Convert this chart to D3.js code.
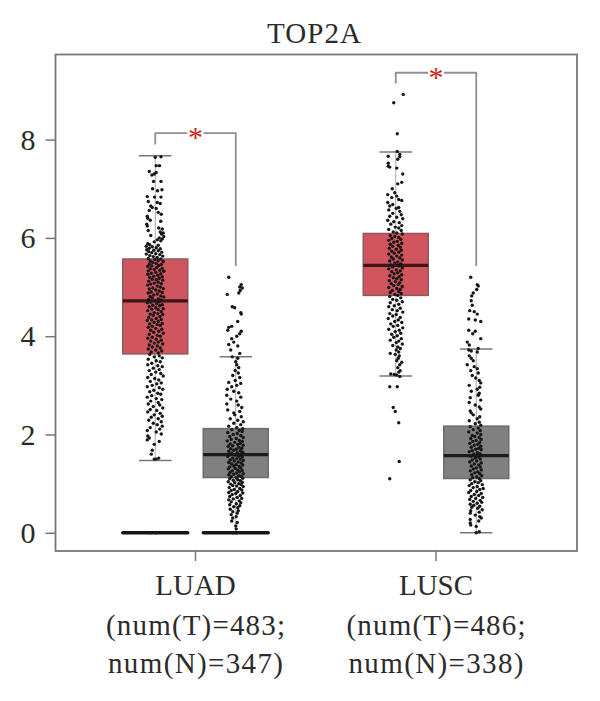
<!DOCTYPE html>
<html>
<head>
<meta charset="utf-8">
<script src="https://cdn.jsdelivr.net/npm/d3@7"></script>
<style>
  html, body { margin: 0; padding: 0; background: #fff; }
  text { font-family: "Liberation Serif", serif; fill: #2b2b2b; }
</style>
</head>
<body>
<svg id="chart" width="600" height="701"></svg>
<script>
const title = "TOP2A";
const categories = ["LUAD", "LUSC"];
const groups = ["T", "N"];
const sampleLabels = [
  ["(num(T)=483;", "num(N)=347)"],
  ["(num(T)=486;", "num(N)=338)"]
];
const yTicks = [0, 2, 4, 6, 8];

// q1, median, q3, whisker low, whisker high
const luadTumorBox = [3.64, 4.72, 5.57, 1.47, 7.67];
const luadNormalBox = [1.125, 1.59, 2.12, 0, 3.58];
const luscTumorBox = [4.83, 5.44, 6.09, 3.19, 7.75];
const luscNormalBox = [1.105, 1.57, 2.17, 0, 3.74];

// bracket top, left foot, right foot
const luadBracket = [8.13, 7.9, 5.43];
const luscBracket = [9.36, 9.14, 5.43];

// samples stuck at zero in LUAD show up as a flat box
const zeroGroups = [["LUAD", "T"], ["LUAD", "N"]];

// [value, jitter], jitter is -1..1 around the box centre
const luadTumorPts = [
[7.65,.57],[7.64,0],[7.47,.1],[7.47,.43],[7.35,-.6],[7.28,-.33],[7.33,.1],[7.3,-.1],[7.15,-.17],[7.15,.57],[7,-.27],[6.96,.23],[6.98,.67],
[6.84,-.8],[6.83,-.07],[6.83,.57],[6.74,-.7],[6.72,.2],[6.7,.5],[6.65,-.45],[6.62,-.3],[6.6,.1],[6.56,-.6],[6.52,.3],[6.48,.6],[6.44,-.8],[6.4,-.75],[6.36,-.5],[6.34,.55],
[6.28,-.85],[6.24,-.8],[6.2,.35],[6.18,.7],[6.15,-.7],[6.12,.5],[6.1,.8],[6.08,.62],[6.05,-.45],[6.03,.85],[6,.4],[5.98,.7],[5.96,.2],[5.94,.55],[5.92,-.1],
[5.88,-.75],[5.86,-.55],[5.85,.3],[5.83,-.9],[5.82,-.3],[5.8,.1],[5.79,-.6],[5.78,.5],[5.76,-.85],[5.75,-.15],[5.74,.3],[5.72,-.65],[5.71,.65],[5.7,-.35],[5.68,.05],[5.67,-.9],[5.66,.45],[5.64,-.55],[5.63,.75],[5.62,-.2],[5.6,.2],[5.58,-.7],[5.57,.55],[5.56,-.05],[5.54,.3],[5.53,-.5],[5.52,.8],[5.5,-.25],
[5.48,.1],[5.47,-.6],[5.46,.6],[5.44,.35],[5.43,-.35],[5.42,-.75],[5.4,.15],[5.38,.7],[5.37,-.5],[5.36,-.1],[5.34,.45],[5.33,-.7],[5.32,.85],[5.3,.05],[5.28,-.4],[5.27,.55],[5.26,-.75],[5.24,.25],[5.22,-.15],[5.21,.7],[5.2,-.55],[5.18,.4],[5.16,-.3],[5.15,.1],[5.14,.75],[5.12,-.65],[5.1,.3],[5.08,-.1],[5.07,.6],[5.06,-.45],[5.04,-.75],[5.02,.2],[5,.5],[4.98,-.25],[4.97,.8],[4.96,-.6],[4.94,.05],[4.92,.4],[4.9,-.4],[4.89,.7],[4.88,-.7],[4.86,.2],[4.84,-.15],[4.82,.55],[4.81,-.5],[4.8,.85],[4.78,-.3],[4.76,.3],[4.75,-.65],[4.74,.6],[4.72,-.05],[4.7,.4],[4.69,-.45],[4.68,-.8],[4.66,.15],[4.64,.7],[4.63,-.25],[4.62,.45],[4.6,-.6],[4.58,.05],[4.56,.8],[4.55,-.35],[4.54,.3],[4.52,-.75],[4.5,.6],[4.48,-.1],[4.46,.25],[4.45,-.5],[4.44,.75],[4.42,-.2],[4.4,.45],[4.38,-.65],[4.36,.1],[4.34,.6],[4.33,-.35],[4.32,-.8],[4.3,.3],[4.28,-.1],[4.26,.7],[4.25,-.55],[4.24,.2],[4.22,.5],[4.2,-.3],[4.18,-.7],[4.16,.05],[4.14,.65],[4.12,-.45],[4.1,.35],[4.08,-.15],[4.06,.8],[4.04,-.6],[4.02,.2],[4,.5],[3.98,-.3],[3.96,-.75],[3.94,.1],[3.92,.6],[3.9,-.45],[3.88,.3],[3.86,-.1],[3.84,.75],[3.82,-.6],[3.8,.2],[3.78,-.3],[3.76,.5],[3.74,-.7],[3.72,.05],[3.7,.65],[3.68,-.4],[3.66,.3],
[3.63,-.55],[3.6,.4],[3.58,-.1],[3.56,.7],[3.53,-.7],[3.5,.1],[3.48,.5],[3.45,-.35],[3.42,-.75],[3.4,.25],[3.38,.7],[3.35,-.2],[3.32,.4],[3.3,-.6],[3.27,.05],[3.24,.55],[3.22,-.4],[3.19,.8],[3.16,-.75],[3.14,-.05],[3.11,.35],[3.08,-.5],[3.05,.6],[3.03,.15],[3,-.3],[2.97,-.8],[2.95,.4],[2.92,.75],[2.9,-.15],[2.87,-.55],[2.84,.25],[2.82,.55],[2.79,-.35],[2.76,-.8],[2.73,.1],[2.71,.65],[2.68,-.45],[2.65,.3],[2.62,-.7],[2.6,.45],[2.57,-.2],[2.54,.75],[2.51,-.5],[2.49,.15],[2.46,-.75],[2.43,.5],[2.4,-.1],[2.37,.7],[2.35,-.4],[2.32,.3],[2.29,-.65],[2.26,.6],[2.23,-.2],[2.2,.2],[2.17,.7],[2.14,-.5],[2.11,.45],[2.08,-.8],[2.05,.1],[2.01,.6],[1.97,-.75],[1.93,-.6],[1.89,-.8],[1.86,.4],[1.8,-.1],[1.68,-.3],[1.6,-.4],[1.52,.35],[1.5,-.1],[1.5,.1],
[0,-.5],[0,.1]
];

const luadNormalPts = [
[5.2,-.7],[5.05,.55],[5,.4],[4.98,.65],[4.93,.45],[4.85,-.85],[4.88,.3],[4.6,-.35],[4.58,-.1],[4.48,.5],[4.45,.55],[4.3,.2],[4.18,-.7],[4.2,-.4],[4.12,-.8],[4.1,.55],[4.05,.4],[4,.1],
[3.95,-.4],[3.88,-.2],[3.83,-.7],[3.8,.2],[3.72,-.5],[3.65,.4],[3.58,-.35],[3.55,.2],[3.48,0],[3.42,.1],[3.36,.3],[3.3,-.05],[3.25,.25],[3.2,-.3],[3.16,.4],[3.1,-.05],[3.06,-.7],[3.04,.5],[3,.1],[2.97,-.4],[2.92,-.85],[2.88,-.2],[2.85,.3],[2.8,-.9],[2.76,.5],[2.72,-.5],[2.68,.1],[2.62,-.9],[2.6,.25],[2.55,.6],[2.5,-.8],[2.47,.4],[2.44,-.2],[2.4,-.1],[2.36,.55],[2.32,-.55],[2.29,.2],[2.26,.75],[2.23,-.2],[2.2,.5],[2.17,-.7],[2.14,.1],[2.12,.7],
[2.1,-.4],[2.08,.35],[2.06,.65],[2.04,-.8],[2.02,.15],[2,-.25],[1.98,.5],[1.96,-.6],[1.94,.75],[1.92,.05],[1.9,-.45],[1.88,.35],[1.87,-.85],[1.86,.65],[1.84,-.1],[1.82,.45],[1.81,-.55],[1.8,.2],[1.78,.75],[1.77,-.3],[1.76,-.75],[1.74,.3],[1.72,.6],[1.71,-.5],[1.7,.05],[1.68,-.2],[1.67,.45],[1.66,-.7],[1.64,.7],[1.63,.15],[1.62,-.4],[1.6,.5],[1.59,-.65],[1.58,-.05],[1.56,.3],[1.55,-.8],[1.54,.65],[1.52,-.3],[1.51,.1],[1.5,.45],[1.48,-.55],[1.47,.75],[1.46,-.15],[1.44,.25],[1.43,-.7],[1.42,.55],[1.4,-.4],[1.39,.05],[1.38,.7],[1.36,-.2],[1.35,.35],[1.34,-.6],[1.32,.5],[1.31,-.05],[1.3,-.75],[1.28,.2],[1.27,.65],[1.26,-.35],[1.24,.4],[1.23,-.55],[1.22,.1],[1.2,.75],[1.19,-.2],[1.18,-.7],[1.16,.3],[1.15,.55],[1.14,-.45],[1.12,.05],[1.11,.7],[1.1,-.6],[1.08,.2],[1.07,-.25],[1.06,.45],[1.04,-.75],[1.03,.65],[1.02,-.1],[1,.3],[.99,-.5],[.98,.55],[.96,-.3],[.95,.1],[.94,.75],[.92,-.65],[.9,.4],[.88,-.15],[.87,.6],[.86,-.45],[.84,.2],[.82,-.7],[.81,.7],[.8,0],[.78,-.35],[.76,.45],[.74,-.6],[.72,.15],[.7,.6],[.69,-.25],[.67,-.7],[.65,.35],[.63,-.45],[.61,.5],[.59,.05],[.57,-.6],[.55,.4],[.53,-.2],[.51,.2],[.48,-.55],[.45,.25],[.43,-.3],[.4,.15],[.37,-.45],[.33,.05],[.3,-.3],[.24,-.4],[.21,.15],[.14,0],[.08,.05],[0,.05],[0,-.3]
];

const luscTumorPts = [
[8.92,.75],[8.75,-.2],[8.12,.15],[7.76,.15],[7.7,.4],[7.66,-.75],[7.65,.4],[7.6,.2],[7.52,-.75],[7.46,-.75],[7.44,-.6],[7.42,.1],[7.3,.7],[7.13,.6],[7.1,.2],[7,-.35],[6.92,-.1],[6.88,-.8],[6.85,.1],[6.82,-.4],[6.78,.3],[6.76,.6],[6.72,-.8],[6.68,-.3],[6.65,-.6],[6.62,.3],[6.6,.05],[6.57,-.7],[6.54,.4],[6.5,-.3],[6.47,.55],[6.44,-.6],[6.42,.1],[6.39,.7],[6.36,-.8],[6.33,-.2],[6.31,.35],[6.28,-.5],[6.25,.6],[6.22,-.05],[6.2,.3],[6.17,-.7],[6.15,.55],[6.12,-.25],[6.1,.1],
[6.08,.65],[6.05,-.55],[6.03,-.1],[6.01,.3],[5.99,-.4],[5.97,.5],[5.95,-.7],[5.93,.15],[5.91,-.2],[5.89,.6],[5.87,-.55],[5.85,.25],[5.83,-.3],[5.81,.45],[5.79,-.65],[5.77,.05],[5.75,.55],[5.73,-.4],[5.71,.3],[5.69,-.15],[5.67,-.7],[5.65,.6],[5.63,.1],[5.61,-.45],[5.59,.4],[5.57,-.25],[5.55,.65],[5.53,-.6],[5.51,.2],[5.49,-.1],[5.47,.5],[5.45,-.5],[5.43,.3],[5.41,-.3],[5.39,.65],[5.37,-.7],[5.35,.05],[5.33,.45],[5.31,-.4],[5.29,.2],[5.27,-.15],[5.25,.6],[5.23,-.6],[5.21,.35],[5.19,-.25],[5.17,.1],[5.15,.55],[5.13,-.65],[5.11,-.05],[5.09,.4],[5.07,-.45],[5.05,.25],[5.03,-.2],[5.01,.65],[4.99,-.7],[4.97,.1],[4.95,.45],[4.93,-.35],[4.91,.3],[4.89,-.55],[4.87,.55],[4.85,-.1],[4.83,.2],
[4.81,-.6],[4.78,.5],[4.75,-.3],[4.73,.1],[4.7,.65],[4.68,-.55],[4.65,.3],[4.62,-.15],[4.6,-.7],[4.57,.45],[4.54,-.35],[4.52,.15],[4.49,.7],[4.46,-.6],[4.44,.05],[4.41,-.3],[4.38,.45],[4.36,-.75],[4.33,.25],[4.3,-.1],[4.28,.6],[4.25,-.5],[4.22,.2],[4.2,-.25],[4.17,.7],[4.14,-.7],[4.12,.35],[4.09,-.05],[4.06,.5],[4.04,-.4],[4.01,.15],[3.98,-.2],[3.95,.55],[3.92,-.55],[3.9,.3],[3.87,.05],[3.84,.65],[3.81,-.3],[3.78,.2],[3.75,.45],[3.72,.05],[3.68,.3],[3.65,-.55],[3.63,-.05],[3.6,.35],[3.55,.25],[3.5,.1],[3.47,.6],[3.42,.4],[3.36,.2],[3.3,.45],[3.27,.3],[3.23,-.5],[3.22,-.15],[3.21,.1],[3.18,.4],
[2.97,-.6],[2.97,.15],[2.55,-.25],[2.47,-.05],[2.24,.3],[1.45,.35],[1.1,-.6]
];

const luscNormalPts = [
[5.2,-.55],[5.05,.1],[5.02,.2],[4.95,.05],[4.88,-.3],[4.82,-.45],[4.72,-.5],[4.63,-.4],[4.52,-.65],[4.5,-.2],[4.45,.1],[4.35,-.75],[4.33,-.1],[4.3,.45],[4.12,-.75],[4.05,-.35],[4.1,-.1],[3.95,.45],[3.88,-.9],[3.82,-.7],[3.75,.2],[3.72,-.75],[3.7,-.5],[3.68,.1],[3.6,-.7],[3.55,-.5],[3.5,-.3],[3.42,-.9],[3.38,-.2],[3.34,.1],[3.3,-.55],[3.25,.2],[3.2,-.4],[3.15,-.05],[3.1,.3],[3.05,.45],[3,-.7],[2.96,.35],[2.92,.1],[2.88,-.5],[2.84,.3],[2.8,.2],[2.75,-.6],[2.7,.45],[2.65,-.7],[2.6,-.1],[2.56,.3],[2.52,.45],[2.48,-.6],[2.44,-.5],[2.4,-.3],[2.36,.35],[2.32,.1],[2.28,-.7],[2.25,.3],[2.22,-.1],[2.19,.45],
[2.16,-.6],[2.13,.2],[2.1,-.3],[2.08,.4],[2.05,-.75],[2.03,.1],[2,.45],[1.98,-.4],[1.96,-.15],[1.94,.3],[1.92,-.55],[1.9,.5],[1.88,0],[1.86,-.35],[1.84,.35],[1.82,-.65],[1.8,.15],[1.78,-.2],[1.76,.45],[1.74,-.5],[1.72,.25],[1.7,-.05],[1.69,.5],[1.67,-.4],[1.65,-.7],[1.63,.1],[1.61,.35],[1.6,-.25],[1.58,.5],[1.56,-.55],[1.54,.2],[1.52,-.1],[1.5,.4],[1.48,-.4],[1.46,.05],[1.44,-.65],[1.42,.5],[1.4,-.2],[1.38,.25],[1.36,-.5],[1.34,.4],[1.32,0],[1.3,-.3],[1.28,.5],[1.26,-.6],[1.24,.15],[1.22,-.15],[1.2,.35],[1.18,-.45],[1.16,.55],[1.14,.05],[1.12,-.35],
[1.1,.3],[1.08,-.6],[1.06,.45],[1.04,-.15],[1.02,.2],[1,-.45],[.98,.6],[.96,-.7],[.94,.1],[.92,-.3],[.9,.7],[.88,.35],[.86,-.55],[.84,.05],[.82,-.75],[.8,.5],[.78,-.2],[.76,.25],[.74,-.5],[.72,.65],[.7,-.05],[.68,-.65],[.66,.4],[.64,-.3],[.62,.55],[.6,.1],[.58,-.6],[.56,-.25],[.54,.35],[.52,-.45],[.5,.15],[.47,.6],[.45,-.55],[.42,.3],[.4,-.6],[.36,-.1],[.33,.35],[.3,.5],[.27,-.6],[.24,.25],[.2,-.6],[.16,-.55],[.13,0],[.02,.3],[0,0]
];

const seriesPts = { LUAD: { T: luadTumorPts, N: luadNormalPts }, LUSC: { T: luscTumorPts, N: luscNormalPts } };
const seriesBox = { LUAD: { T: luadTumorBox, N: luadNormalBox }, LUSC: { T: luscTumorBox, N: luscNormalBox } };
const seriesBracket = { LUAD: luadBracket, LUSC: luscBracket };

const svg = d3.select("#chart");
const frame = { left: 55.5, right: 577, top: 54.5, bottom: 551 };

const y = d3.scaleLinear().domain([0, 8]).range([532.8, 139.6]);
const x = d3.scaleBand().domain(categories).range([75.25, 556.25]);
const xInner = d3.scaleBand().domain(groups).range([-72.75, 72.75]).paddingInner(0.1925).paddingOuter(0);
const jitter = d3.scaleLinear().domain([-1, 1]).range([-10, 10]);

const boxFill = { T: "#d1555f", N: "#808080" };
const boxStroke = { T: "#8a5a5e", N: "#6c6c6c" };
const medianColor = { T: "#3d1518", N: "#1c1c1c" };

const groupX = (cat, g) => x(cat) + x.bandwidth() / 2 + xInner(g) + xInner.bandwidth() / 2;

// frame
svg.append("rect")
  .attr("x", frame.left).attr("y", frame.top)
  .attr("width", frame.right - frame.left).attr("height", frame.bottom - frame.top)
  .attr("fill", "none").attr("stroke", "#777").attr("stroke-width", 1.8);

// axes
const yAxis = d3.axisLeft(y).tickValues(yTicks).tickSize(10).tickPadding(10);
const gy = svg.append("g").attr("transform", `translate(${frame.left},0)`).call(yAxis);
gy.select(".domain").remove();
gy.selectAll("line").attr("stroke", "#777").attr("stroke-width", 1.5);
gy.selectAll("text").style("font-size", "30px").attr("fill", "#2b2b2b");

const xAxis = d3.axisBottom(x).tickSize(10).tickFormat("");
const gx = svg.append("g").attr("transform", `translate(0,${frame.bottom})`).call(xAxis);
gx.select(".domain").remove();
gx.selectAll("line").attr("stroke", "#777").attr("stroke-width", 1.5);

// category labels, three lines each
categories.forEach((cat, i) => {
  const cx = x(cat) + x.bandwidth() / 2;
  svg.append("text").attr("x", cx).attr("y", 595).attr("text-anchor", "middle")
    .style("font-size", "29px").text(cat);
  sampleLabels[i].forEach((line, j) => {
    svg.append("text").attr("x", cx).attr("y", 635 + j * 38).attr("text-anchor", "middle")
      .style("font-size", "29px").attr("textLength", j === 0 ? 179 : 175).attr("lengthAdjust", "spacing").text(line);
  });
});

svg.append("text").attr("x", 314).attr("y", 43).attr("text-anchor", "middle")
  .style("font-size", "29px").attr("textLength", 94).text(title);

// boxes
categories.forEach(cat => {
  groups.forEach(g => {
    const [q1, med, q3, lo, hi] = seriesBox[cat][g];
    const cx = groupX(cat, g);
    const w = xInner.bandwidth();
    const gb = svg.append("g");
    gb.append("line").attr("x1", cx).attr("x2", cx).attr("y1", y(hi)).attr("y2", y(lo))
      .attr("stroke", "#aaa").attr("stroke-width", 1);
    [lo, hi].forEach(v => {
      gb.append("line").attr("x1", cx - w / 4).attr("x2", cx + w / 4).attr("y1", y(v)).attr("y2", y(v))
        .attr("stroke", "#777").attr("stroke-width", 1.5);
    });
    gb.append("rect").attr("x", cx - w / 2).attr("width", w)
      .attr("y", y(q3)).attr("height", y(q1) - y(q3))
      .attr("fill", boxFill[g]).attr("stroke", boxStroke[g]).attr("stroke-width", 1.5);
    gb.append("line").attr("x1", cx - w / 2).attr("x2", cx + w / 2).attr("y1", y(med)).attr("y2", y(med))
      .attr("stroke", medianColor[g]).attr("stroke-width", 3.2);
  });
});

zeroGroups.forEach(([cat, g]) => {
  const cx = groupX(cat, g);
  const w = xInner.bandwidth();
  svg.append("line").attr("x1", cx - w / 2).attr("x2", cx + w / 2).attr("y1", y(0)).attr("y2", y(0))
    .attr("stroke", "#151515").attr("stroke-width", 3.4).attr("stroke-linecap", "round");
});

// jittered samples
categories.forEach(cat => {
  groups.forEach(g => {
    svg.append("g").selectAll("circle")
      .data(seriesPts[cat][g])
      .enter().append("circle")
      .attr("cx", d => groupX(cat, g) + jitter(d[1]))
      .attr("cy", d => y(d[0]))
      .attr("r", 1.7)
      .attr("fill", "#161616");
  });
});

// significance brackets
categories.forEach(cat => {
  const [top, leftFoot, rightFoot] = seriesBracket[cat];
  const xl = groupX(cat, "T");
  const xr = groupX(cat, "N");
  const mid = x(cat) + x.bandwidth() / 2;
  const gap = 8;
  const line = d3.line().x(d => d[0]).y(d => y(d[1]));
  svg.append("path").attr("d", line([[xl, leftFoot], [xl, top], [mid - gap, top]]))
    .attr("fill", "none").attr("stroke", "#909090").attr("stroke-width", 1.8);
  svg.append("path").attr("d", line([[mid + gap, top], [xr, top], [xr, rightFoot]]))
    .attr("fill", "none").attr("stroke", "#909090").attr("stroke-width", 1.8);
  svg.append("text").attr("x", mid).attr("y", y(top) + 14).attr("text-anchor", "middle")
    .style("font-size", "30px").style("fill", "#d2230f").text("*");
});
</script>
</body>
</html>
